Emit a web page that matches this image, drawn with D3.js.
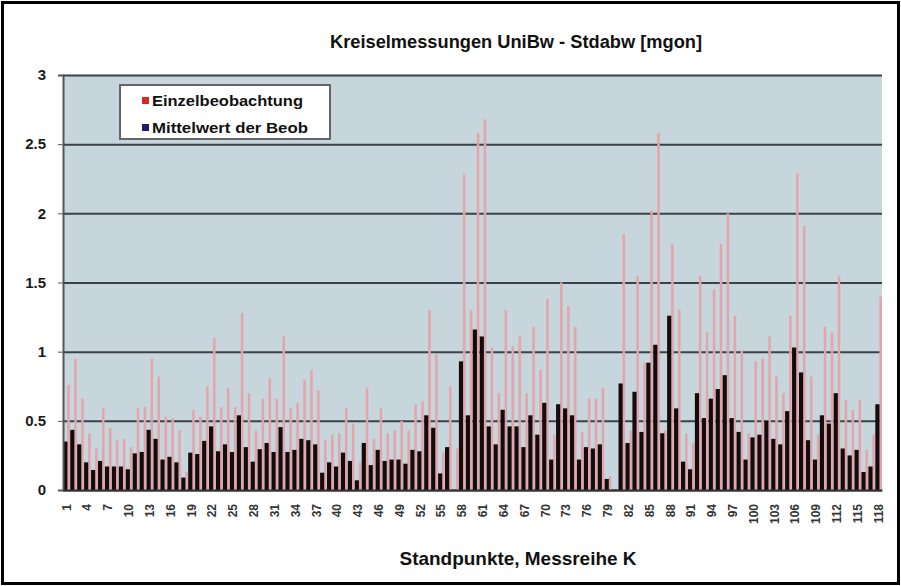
<!DOCTYPE html>
<html>
<head>
<meta charset="utf-8">
<script src="https://cdn.jsdelivr.net/npm/d3@7/dist/d3.min.js"></script>
<style>
  body { margin: 0; background: #fff; }
  svg { display: block; font-family: Arial, "Liberation Sans", sans-serif; }
</style>
</head>
<body>
<div id="chart"></div>
<script>
// Standpunkte 1..118
var standpunkte = [1,2,3,4,5,6,7,8,9,10,11,12,13,14,15,16,17,18,19,20,21,22,23,24,25,26,27,28,29,30,
  31,32,33,34,35,36,37,38,39,40,41,42,43,44,45,46,47,48,49,50,51,52,53,54,55,56,57,58,59,60,
  61,62,63,64,65,66,67,68,69,70,71,72,73,74,75,76,77,78,79,80,81,82,83,84,85,86,87,88,89,90,
  91,92,93,94,95,96,97,98,99,100,101,102,103,104,105,106,107,108,109,110,111,112,113,114,115,116,117,118];

// Einzelbeobachtung (rot)
var einzel = [0.76,0.95,0.66,0.41,0.30,0.59,0.45,0.36,0.37,0.31,0.59,0.60,0.95,0.82,0.53,0.52,0.43,0.13,0.58,0.53,
  0.75,1.10,0.60,0.74,0.60,1.28,0.70,0.43,0.66,0.81,0.66,1.11,0.59,0.63,0.80,0.87,0.72,0.36,0.40,0.41,
  0.59,0.48,0.20,0.74,0.37,0.59,0.41,0.43,0.50,0.43,0.62,0.64,1.30,0.98,0.27,0.75,0.30,2.28,1.30,2.58,
  2.68,1.03,0.70,1.30,1.04,1.11,0.70,1.18,0.87,1.38,0.40,1.50,1.33,1.18,0.42,0.66,0.66,0.74,0.10,0,
  1.85,0.43,1.55,0.92,2.02,2.58,0.43,1.78,1.30,0.41,0.34,1.55,1.14,1.45,1.78,2.00,1.26,1.01,0.41,0.93,
  0.95,1.11,0.82,0.70,1.26,2.29,1.91,0.82,0.40,1.18,1.14,1.55,0.65,0.58,0.65,0.29,0.40,1.40];

// Mittelwert der Beob (schwarz)
var mittel = [0.35,0.435,0.33,0.20,0.145,0.21,0.17,0.17,0.17,0.15,0.265,0.275,0.435,0.37,0.22,0.24,0.20,0.09,0.27,0.26,
  0.355,0.46,0.28,0.33,0.275,0.54,0.31,0.205,0.295,0.34,0.275,0.455,0.275,0.29,0.37,0.36,0.33,0.125,0.20,0.17,
  0.27,0.21,0.07,0.34,0.18,0.29,0.21,0.22,0.22,0.19,0.29,0.28,0.54,0.45,0.12,0.31,0,0.93,0.54,1.16,
  1.11,0.46,0.33,0.58,0.46,0.46,0.31,0.54,0.40,0.63,0.22,0.62,0.59,0.54,0.22,0.31,0.30,0.33,0.08,0,
  0.77,0.34,0.71,0.42,0.92,1.05,0.41,1.26,0.59,0.205,0.15,0.70,0.52,0.66,0.73,0.83,0.52,0.42,0.22,0.38,
  0.40,0.50,0.37,0.33,0.57,1.03,0.85,0.36,0.22,0.54,0.48,0.70,0.30,0.25,0.29,0.13,0.17,0.62];

var xTicks = [1,4,7,10,13,16,19,22,25,28,31,34,37,40,43,46,49,52,55,58,61,64,67,70,73,76,79,82,85,88,
  91,94,97,100,103,106,109,112,115,118];
var yTicks = [0, 0.5, 1, 1.5, 2, 2.5, 3];

var W = 901, H = 586;
var margin = {top: 75, right: 19, bottom: 96, left: 63};
var width = W - margin.left - margin.right;
var height = H - margin.top - margin.bottom;

var data = standpunkte.map(function(d, i) {
  return {name: d, einzel: einzel[i], mittel: mittel[i]};
});

var svg = d3.select("#chart")
  .append("svg")
  .attr("width", W)
  .attr("height", H);

// outer frame
svg.append("rect")
  .attr("x", 2.5).attr("y", 2.5)
  .attr("width", W - 5).attr("height", H - 5)
  .attr("fill", "#fff")
  .attr("stroke", "#000")
  .attr("stroke-width", 3);

var g = svg.append("g")
  .attr("transform", "translate(" + margin.left + "," + margin.top + ")");

var xScale = d3.scaleBand()
  .range([0, width])
  .domain(standpunkte);

var yScale = d3.scaleLinear()
  .range([height, 0])
  .domain([0, 3]);

// plot background
g.append("rect")
  .attr("width", width)
  .attr("height", height)
  .attr("fill", "#c7d6dc");

// draw grid
g.append("g")
  .attr("class", "grid")
  .call(d3.axisLeft(yScale)
    .tickValues(yTicks)
    .tickSize(-width)
    .tickFormat(""))
  .call(function(s) {
    s.select(".domain").remove();
    s.selectAll("line").attr("stroke", "#3b4246").attr("stroke-width", 2);
  });

var bw = xScale.bandwidth();

// draw bars
g.selectAll(".bar-einzel")
  .data(data)
  .enter()
  .append("rect")
  .attr("class", "bar-einzel")
  .attr("fill", "#e3a5aa")
  .attr("x", function(d) { return xScale(d.name) + bw * 0.62; })
  .attr("width", bw * 0.36)
  .attr("y", function(d) { return yScale(d.einzel); })
  .attr("height", function(d) { return height - yScale(d.einzel); });

g.selectAll(".bar-mittel")
  .data(data)
  .enter()
  .append("rect")
  .attr("class", "bar-mittel")
  .attr("fill", "#140b0d")
  .attr("x", function(d) { return xScale(d.name) + bw * 0.04; })
  .attr("width", bw * 0.6)
  .attr("y", function(d) { return yScale(d.mittel); })
  .attr("height", function(d) { return height - yScale(d.mittel); });

// y axis
g.append("g")
  .attr("class", "axis")
  .call(d3.axisLeft(yScale)
    .tickValues(yTicks)
    .tickSize(5)
    .tickPadding(12)
    .tickFormat(function(d) { return String(d); }))
  .call(function(s) {
    s.select(".domain").attr("stroke", "#555").attr("stroke-width", 2);
    s.selectAll("line").attr("stroke", "#555");
    s.selectAll("text")
      .attr("fill", "#1a1a1a")
      .style("font-size", "15px")
      .style("font-weight", "bold");
  });

// x axis
g.append("g")
  .attr("class", "axis")
  .attr("transform", "translate(0," + height + ")")
  .call(d3.axisBottom(xScale)
    .tickValues(xTicks)
    .tickSize(0))
  .call(function(s) {
    s.select(".domain").attr("stroke", "#333").attr("stroke-width", 2);
    s.selectAll("text")
      .attr("transform", "rotate(-90)")
      .attr("text-anchor", "end")
      .attr("x", -14)
      .attr("y", 0)
      .attr("dy", "0.35em")
      .attr("fill", "#333")
      .style("font-size", "12px")
      .style("font-weight", "bold");
  });

// legend
var legend = svg.append("g").attr("transform", "translate(120,85)");
legend.append("rect")
  .attr("width", 210).attr("height", 54)
  .attr("fill", "#fff")
  .attr("stroke", "#666")
  .attr("stroke-width", 2);

var legendItems = [
  {label: "Einzelbeobachtung", color: "#d42a2a", len: 151},
  {label: "Mittelwert der Beob", color: "#1c1c70", len: 156}
];
legendItems.forEach(function(item, i) {
  legend.append("rect")
    .attr("x", 22).attr("y", 12 + i * 27)
    .attr("width", 7).attr("height", 7)
    .attr("fill", item.color);
  legend.append("text")
    .attr("x", 32).attr("y", 16 + i * 27)
    .attr("dy", "0.35em")
    .attr("textLength", item.len)
    .attr("lengthAdjust", "spacingAndGlyphs")
    .style("font-size", "15px")
    .style("font-weight", "bold")
    .attr("fill", "#111")
    .text(item.label);
});

// titles
svg.append("text")
  .attr("x", 516).attr("y", 42)
  .attr("dy", "0.35em")
  .attr("text-anchor", "middle")
  .attr("textLength", 372)
  .attr("lengthAdjust", "spacingAndGlyphs")
  .style("font-size", "18px")
  .style("font-weight", "bold")
  .attr("fill", "#111")
  .text("Kreiselmessungen UniBw - Stdabw [mgon]");

svg.append("text")
  .attr("x", 518).attr("y", 558)
  .attr("dy", "0.35em")
  .attr("text-anchor", "middle")
  .attr("textLength", 237)
  .attr("lengthAdjust", "spacingAndGlyphs")
  .style("font-size", "19px")
  .style("font-weight", "bold")
  .attr("fill", "#111")
  .text("Standpunkte, Messreihe K");
</script>
</body>
</html>
